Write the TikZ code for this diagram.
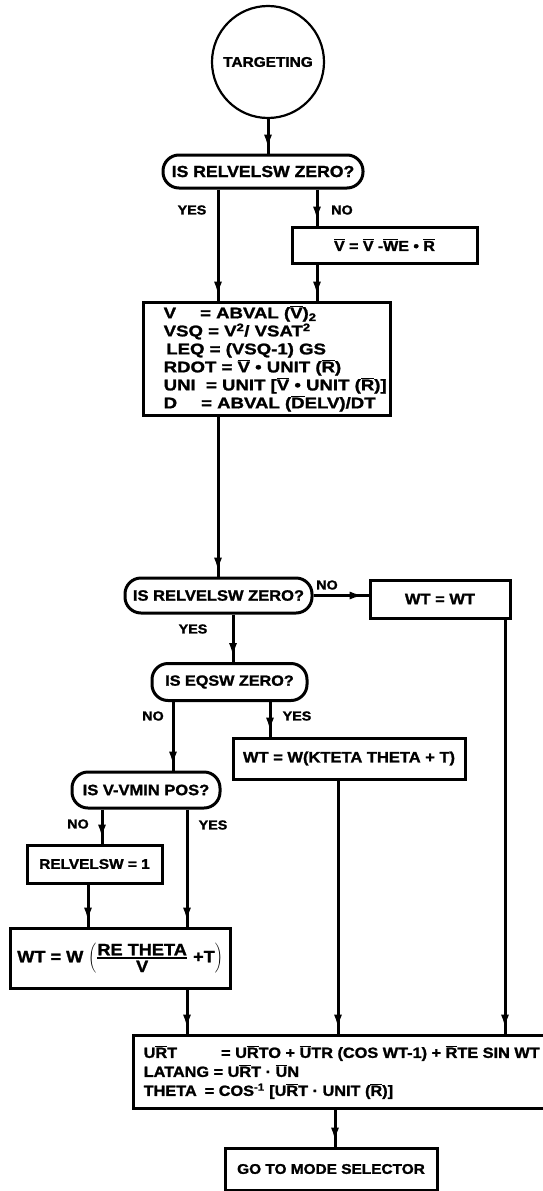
\documentclass[tikz,border=0pt]{standalone}
\usepackage{fontspec}
\setmainfont{Liberation Sans}[FakeStretch=1.1, BoldFeatures={FakeBold=1.5}]
\newfontfamily\widefont{Liberation Sans}[FakeStretch=1.2, BoldFeatures={FakeBold=1.5}]
\usetikzlibrary{arrows.meta,decorations.markings}
\newcommand{\ov}[1]{\ensuremath{\overline{\mbox{#1}}}}
\newcommand{\fs}[2]{\fontsize{#1}{#2}\selectfont}
\begin{document}
\begin{tikzpicture}[x=1pt,y=-1pt,
  every node/.style={font=\bfseries},
  box/.style={draw, line width=3pt, inner sep=0pt},
  dec/.style={draw, line width=3pt, rounded corners=16pt, inner sep=0pt},
  lbl/.style={font=\bfseries\fs{13}{13}, inner sep=0pt},
  flow/.style={line width=3pt, postaction={decorate},
    decoration={markings, mark=at position -4pt with {\arrow{Latex[length=15pt,width=8pt]}}}},
]
\useasboundingbox (0,0) rectangle (543,1191);
% columns
\coordinate (cA) at (218,0);
\coordinate (cB) at (317,0);
\coordinate (cC) at (233,0);
\coordinate (cD) at (173,0);
\coordinate (cE) at (270,0);
\coordinate (cF) at (102,0);
\coordinate (cG) at (187,0);
\coordinate (cH) at (88,0);
\coordinate (cI) at (338,0);
\coordinate (cJ) at (505,0);
\coordinate (cK) at (335,0);

\node[draw, circle, line width=2.2pt, minimum size=112pt, inner sep=0pt, font=\bfseries\fs{14}{14}] (circ) at (268,62) {TARGETING};

\node[dec, minimum width=200pt, minimum height=33pt, font=\bfseries\fs{16}{16}] (d1) at (263,171.5) {IS RELVELSW ZERO?};

\node[box, minimum width=185pt, minimum height=36pt, font=\bfseries\fs{14.5}{14.5}] (nb) at (384.5,245) {\ov{V} = \ov{V} -\ov{W}E • \ov{R}};

\node[box, minimum width=247pt, minimum height=113pt] (big) at (266.5,358.5) {};
\node[anchor=north west, align=left, inner sep=0pt, font=\widefont\bfseries\fs{15.5}{18}] (bigtxt) at ([shift={(22,5)}]big.north west)
 {V\hspace{24pt}= ABVAL (\ov{V})\textsubscript{2}\\
  VSQ = V\textsuperscript{2}/ VSAT\textsuperscript{2}\\
  \,LEQ = (VSQ-1) GS\\
  RDOT = \ov{V} • UNIT (\ov{R})\\
  UNI \ = UNIT [\ov{V} • UNIT (\ov{R})]\\
  D\hspace{24pt}= ABVAL (\ov{D}ELV)/DT};

\node[dec, minimum width=187pt, minimum height=35pt, font=\bfseries\fs{15}{15}] (d2) at (218.5,595.5) {IS RELVELSW ZERO?};
\node[box, minimum width=140pt, minimum height=38pt, font=\bfseries\fs{15}{15}] (wtwt) at (440,599) {WT = WT};

\node[dec, minimum width=155pt, minimum height=37pt, font=\bfseries\fs{14.7}{14.7}] (d3) at (229.5,682) {IS EQSW ZERO?};
\node[box, minimum width=232pt, minimum height=41pt, font=\bfseries\fs{15}{15}] (wtk) at (349,758.5) {WT = W(KTETA THETA + T)};

\node[dec, minimum width=148pt, minimum height=36pt, font=\bfseries\fs{15}{15}] (d4) at (146,790) {IS V-VMIN POS?};
\node[box, minimum width=135pt, minimum height=38pt, font=\bfseries\fs{14}{14}] (rel) at (94.5,864) {RELVELSW = 1};
\node[box, minimum width=220pt, minimum height=60pt, font=\bfseries\fs{16.5}{16.5}] (wtf) at (120,958)
 {WT = W $\left({\displaystyle\mbox{RE THETA}\above 1.8pt\mbox{V}}\ \mbox{+T}\right)$};

\node[box, minimum width=415pt, minimum height=73pt] (bot) at (340.5,1071.5) {};
\node[anchor=north west, align=left, inner sep=0pt, font=\bfseries\fs{14.8}{19}] (bottxt) at ([shift={(12,12)}]bot.north west)
 {U\ov{R}T\hspace{44pt}= U\ov{R}TO + \ov{U}TR (COS WT-1) + \ov{R}TE SIN WT\\
  LATANG = U\ov{R}T · \ov{U}N\\
  THETA\hspace{8pt}= COS\textsuperscript{-1} [U\ov{R}T · UNIT (\ov{R})]};

\node[box, minimum width=212pt, minimum height=42pt, font=\bfseries\fs{14}{14}] (goto) at (331,1169) {GO TO MODE SELECTOR};

% labels
\node[lbl] (yes1) at (192,210) {YES};
\node[lbl] (no1) at (342,210) {NO};
\node[lbl] (no2) at (327,585) {NO};
\node[lbl] (yes2) at (193,629) {YES};
\node[lbl] (no3) at (153,716) {NO};
\node[lbl] (yes3) at (297,716) {YES};
\node[lbl] (no4) at (78,824) {NO};
\node[lbl] (yes4) at (213,825) {YES};

% connectors
\draw[flow] (circ.south) -- (d1.north -| circ.south);
\draw[flow] (d1.south -| cA) -- (big.north -| cA);
\draw[flow] (d1.south -| cB) -- (nb.north -| cB);
\draw[flow] (nb.south -| cB) -- (big.north -| cB);
\draw[flow] (big.south -| cA) -- (d2.north -| cA);
\draw[flow] (d2.east) -- (d2.east -| wtwt.west);
\draw[flow] (d2.south -| cC) -- (d3.north -| cC);
\draw[flow] (d3.south -| cD) -- (d4.north -| cD);
\draw[flow] (d3.south -| cE) -- (wtk.north -| cE);
\draw[flow] (d4.south -| cF) -- (rel.north -| cF);
\draw[flow] (d4.south -| cG) -- (wtf.north -| cG);
\draw[flow] (rel.south -| cH) -- (wtf.north -| cH);
\draw[flow] (wtf.south -| cG) -- (bot.north -| cG);
\draw[flow] (wtk.south -| cI) -- (bot.north -| cI);
\draw[flow] (wtwt.south -| cJ) -- (bot.north -| cJ);
\draw[flow] (bot.south -| cK) -- (goto.north -| cK);
\end{tikzpicture}
\end{document}
